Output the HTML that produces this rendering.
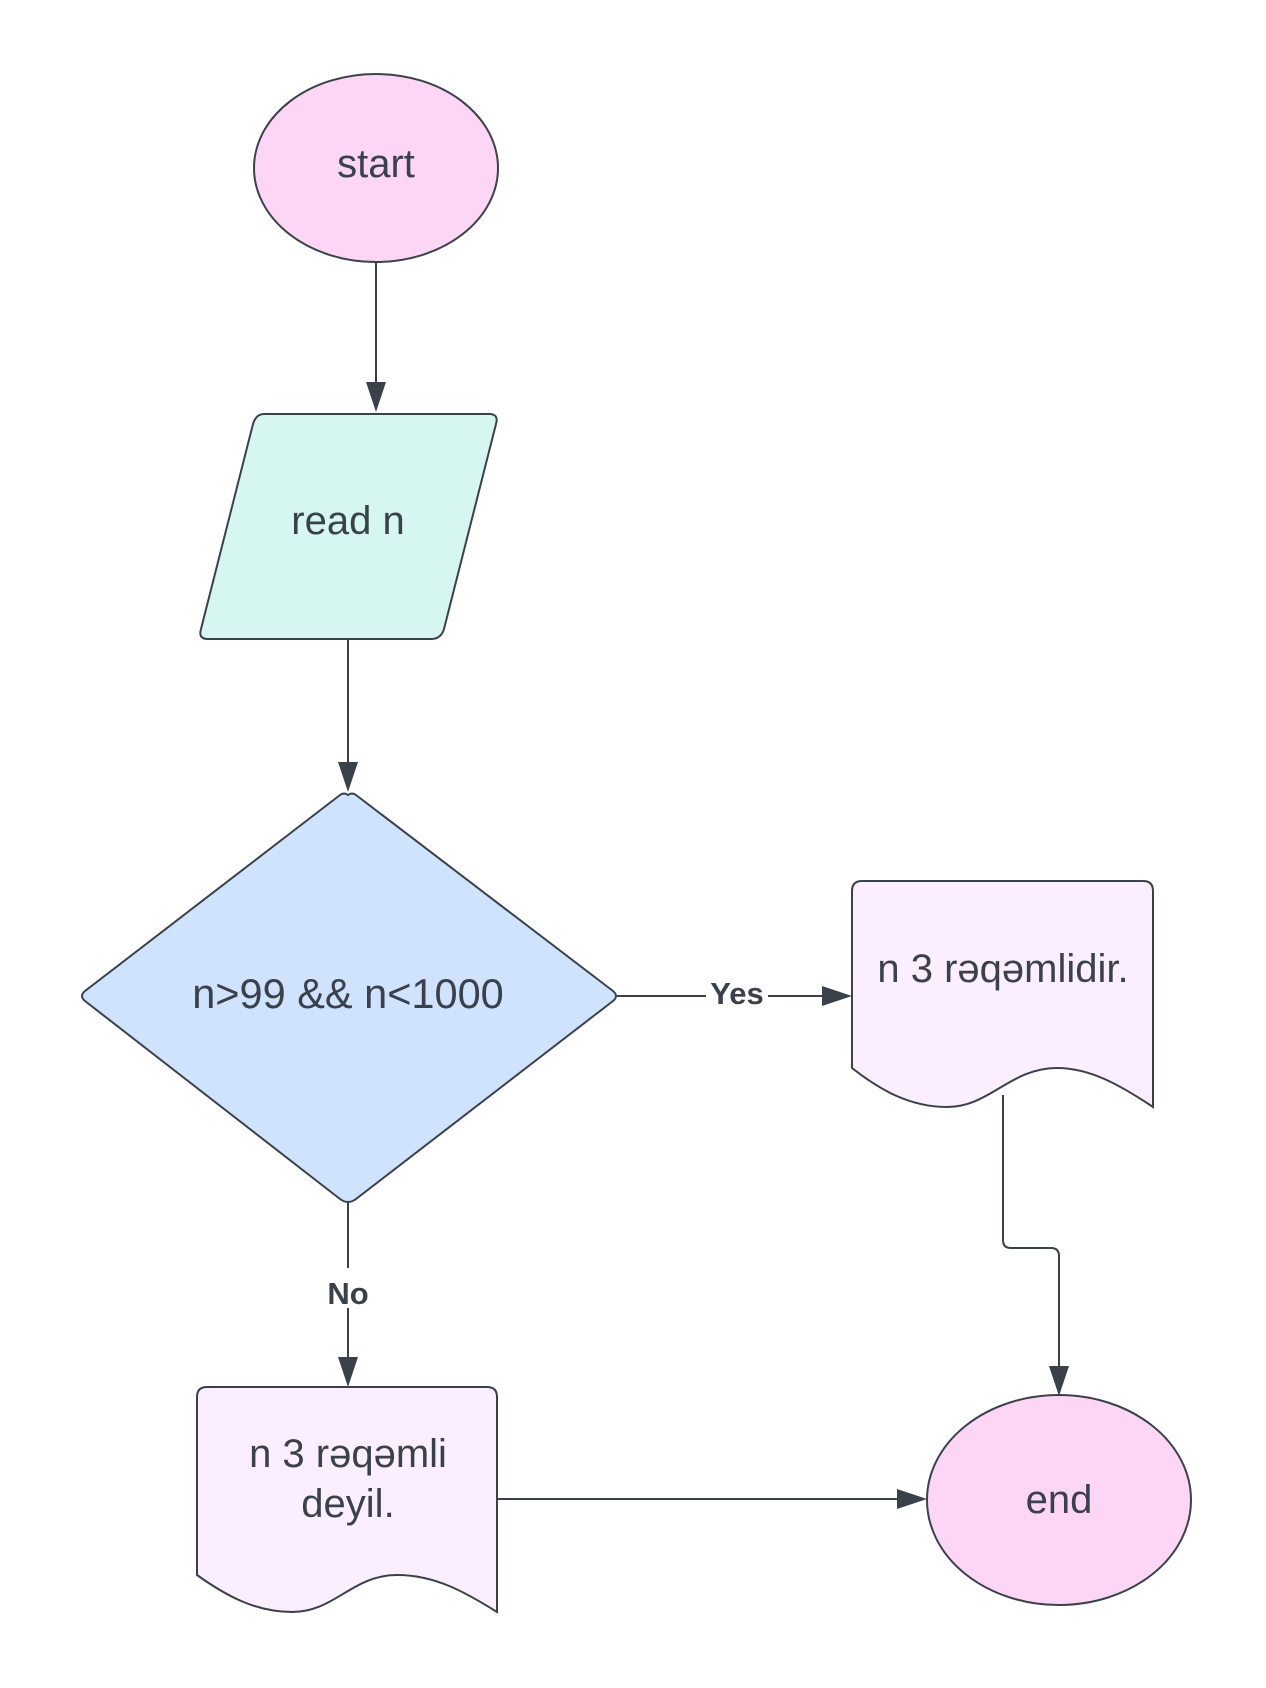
<!DOCTYPE html>
<html><head><meta charset="utf-8"><style>
html,body{margin:0;padding:0;background:#fff;}
svg{display:block;}
text{font-family:"Liberation Sans","DejaVu Sans",sans-serif;fill:#3a414a;}
</style></head><body>
<svg width="1266" height="1688" viewBox="0 0 1266 1688" xmlns="http://www.w3.org/2000/svg">
<g stroke="#3a414a" stroke-width="2" fill="none">
<line x1="376" y1="263" x2="376" y2="385"/>
<line x1="348" y1="640" x2="348" y2="765"/>
<line x1="617" y1="996" x2="825" y2="996"/>
<path d="M1003,1095 L1003,1240 Q1003,1248 1011,1248 L1051,1248 Q1059,1248 1059,1256 L1059,1370"/>
<line x1="348" y1="1203" x2="348" y2="1360"/>
<line x1="498" y1="1499" x2="900" y2="1499"/>
</g>
<g fill="#3a414a">
<path d="M366,382 L386,382 L376,412 z"/>
<path d="M338,762 L358,762 L348,792 z"/>
<path d="M822,986 L822,1006 L852,996 z"/>
<path d="M1049,1366 L1069,1366 L1059,1396 z"/>
<path d="M338,1357 L358,1357 L348,1387 z"/>
<path d="M897,1489 L897,1509 L927,1499 z"/>
</g>
<ellipse cx="376" cy="168" rx="122" ry="94" fill="#fdd6f5" stroke="#3a414a" stroke-width="2"/>
<path d="M264,414 L489,414 Q499,414 496,424 L444,629 Q441,639 431,639 L208,639 Q198,639 201,629 L253,424 Q256,414 264,414 z" fill="#d6f7f1" stroke="#3a414a" stroke-width="2"/>
<path d="M348,795 Q352,792 356,795 L613,991 Q619,996 613,1001 L356,1199 Q348,1205 340,1199 L85,1001 Q79,996 85,991 L340,795 Q344,792 348,795 z" fill="#cfe3fe" stroke="#3a414a" stroke-width="2"/>
<path d="M862,881 L1143,881 Q1153,881 1153,891 L1153,1107 C1120,1085 1090,1068 1057,1068 C1010,1068 990,1107 947,1107 C910,1107 880,1090 852,1068 L852,891 Q852,881 862,881 z" fill="#fbeefe" stroke="#3a414a" stroke-width="2"/>
<path d="M207,1387 L487,1387 Q497,1387 497,1397 L497,1612 C465,1592 435,1575 397,1575 C352,1575 335,1612 292,1612 C255,1612 225,1595 197,1575 L197,1397 Q197,1387 207,1387 z" fill="#fbeefe" stroke="#3a414a" stroke-width="2"/>
<ellipse cx="1059" cy="1500" rx="132" ry="105" fill="#fdd6f5" stroke="#3a414a" stroke-width="2"/>
<rect x="706" y="974" width="62" height="40" fill="#fff"/>
<rect x="322" y="1268" width="52" height="40" fill="#fff"/>
<text x="376" y="177" font-size="40" text-anchor="middle">start</text>
<text x="348" y="534" font-size="40" text-anchor="middle">read n</text>
<text x="348" y="1008" font-size="41.5" text-anchor="middle">n&gt;99 &amp;&amp; n&lt;1000</text>
<text x="1003" y="982" font-size="40" text-anchor="middle">n 3 rəqəmlidir.</text>
<text x="348" y="1467" font-size="40" text-anchor="middle">n 3 rəqəmli</text>
<text x="348" y="1517" font-size="40" text-anchor="middle">deyil.</text>
<text x="1059" y="1513" font-size="40" text-anchor="middle">end</text>
<text x="737" y="1004" font-size="31" font-weight="bold" text-anchor="middle">Yes</text>
<text x="348" y="1304" font-size="31" font-weight="bold" text-anchor="middle">No</text>
</svg>
</body></html>
